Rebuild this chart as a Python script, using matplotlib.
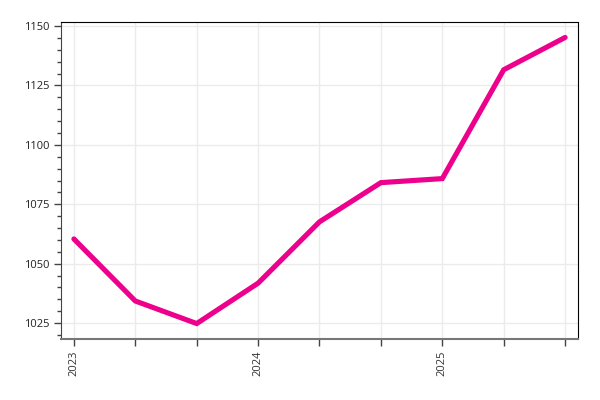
import matplotlib
matplotlib.use('Agg')
import matplotlib.pyplot as plt
from matplotlib.ticker import MultipleLocator

# data
periods = ['2023-01', '2023-05', '2023-09', '2024-01', '2024-05',
           '2024-09', '2025-01', '2025-05', '2025-09']
values = [1060.4, 1034.3, 1024.8, 1041.8, 1067.6, 1084.1, 1085.8, 1131.6, 1145.2]
tick_labels = ['2023', '', '', '2024', '', '', '2025', '', '']

plt.rcParams['font.family'] = ['Open Sans', 'DejaVu Sans']

fig = plt.figure(figsize=(6, 4), dpi=100)
ax = fig.add_axes([61/600, 1 - 339/400, 517/600, 317/400])

x = list(range(len(periods)))
ax.plot(x, values, color='#ec008c', linewidth=3.7, solid_capstyle='round',
        solid_joinstyle='miter', zorder=3)

ax.set_xlim(-0.21, len(periods) - 1 + 0.21)
ax.set_ylim(1018.3, 1151.7)

ax.set_xticks(x)
ax.set_xticklabels(tick_labels, rotation=90, fontsize=8, color='#333333')
ax.yaxis.set_major_locator(MultipleLocator(25))
ax.yaxis.set_minor_locator(MultipleLocator(5))
ax.tick_params(axis='y', labelsize=8, labelcolor='#222222', length=5, width=1, color='#444444')
ax.tick_params(axis='y', which='minor', length=3, width=1, color='#444444')
ax.tick_params(axis='x', length=5, width=1, color='#444444', pad=3)

ax.grid(True, color='#ebebeb', linewidth=1)
ax.set_axisbelow(True)

ax.spines['left'].set_color('#444444')
ax.spines['bottom'].set_color('#777777')
ax.spines['bottom'].set_linewidth(1.5)
for s in ['top', 'right']:
    ax.spines[s].set_color('black')

fig.savefig('out.png', dpi=100)
